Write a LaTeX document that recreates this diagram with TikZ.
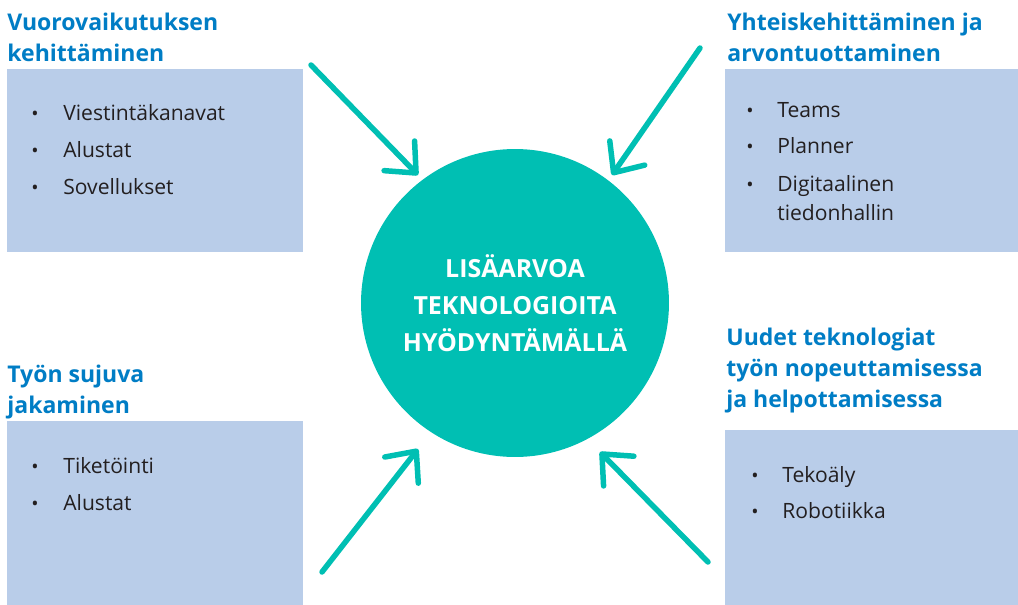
\documentclass[tikz,border=0pt]{standalone}
\usepackage{fontspec}
\setmainfont{Open Sans}
\usetikzlibrary{arrows.meta}

\definecolor{hubteal}{RGB}{0,191,179}
\definecolor{boxblue}{RGB}{185,205,233}
\definecolor{headblue}{RGB}{0,125,197}
\definecolor{itemgray}{RGB}{35,31,32}

\tikzstyle{hub} = [circle, fill=hubteal, minimum size=6.16cm, inner sep=0pt]
\tikzstyle{hubtext} = [anchor=base, text=white, font=\fontsize{14.2}{21}\selectfont\bfseries, align=center, inner sep=0pt]
\tikzstyle{head} = [anchor=base west, text=headblue, font=\fontsize{13.1}{17.6}\selectfont\bfseries, align=left, inner sep=0pt]
\tikzstyle{itm} = [anchor=base west, text=itemgray, font=\fontsize{12}{16.4}\selectfont, align=left, inner sep=0pt]
\tikzstyle{bul} = [anchor=base, text=itemgray, font=\fontsize{11}{14}\selectfont, inner sep=0pt]
\tikzstyle{panel} = [fill=boxblue]
\tikzstyle{push} = [draw=hubteal, line width=0.11cm, line cap=round, -{Straight Barb[length=0.48cm, width=0.85cm, round]}]

\begin{document}
\begin{tikzpicture}[x=0.02cm, y=-0.02cm]
\useasboundingbox (0,0) rectangle (1018,605);

% panels
\fill[panel] (7,69) rectangle (303,252);
\fill[panel] (725,69) rectangle (1018,252);
\fill[panel] (7,421) rectangle (303,605);
\fill[panel] (725,430) rectangle (1018,605);

% centre
\node[hub] (hub) at (515,303) {};
\node[hubtext] (hublabel) at (515,351) {LISÄARVOA\\TEKNOLOGIOITA\\HYÖDYNTÄMÄLLÄ};

% top left
\node[head] (tlhead) at (7,61) {Vuorovaikutuksen\\kehittäminen};
\node[bul] (tlb1) at (35,120) {\textbullet};
\node[itm] (tli1) at (63,120) {Viestintäkanavat};
\node[bul] (tlb2) at (35,157) {\textbullet};
\node[itm] (tli2) at (63,157) {Alustat};
\node[bul] (tlb3) at (35,194) {\textbullet};
\node[itm] (tli3) at (63,194) {Sovellukset};

% top right
\node[head] (trhead) at (727,61) {Yhteiskehittäminen ja\\arvontuottaminen};
\node[bul] (trb1) at (750,117) {\textbullet};
\node[itm] (tri1) at (777,117) {Teams};
\node[bul] (trb2) at (750,153) {\textbullet};
\node[itm] (tri2) at (777,153) {Planner};
\node[bul] (trb3) at (750,191) {\textbullet};
\node[itm] (tri3) at (777,220) {Digitaalinen\\tiedonhallin};

% bottom left
\node[head] (blhead) at (7,413) {Työn sujuva\\jakaminen};
\node[bul] (blb1) at (35,473) {\textbullet};
\node[itm] (bli1) at (63,473) {Tiketöinti};
\node[bul] (blb2) at (35,510) {\textbullet};
\node[itm] (bli2) at (63,510) {Alustat};

% bottom right
\node[head] (brhead) at (726,407) {Uudet teknologiat\\työn nopeuttamisessa\\ja helpottamisessa};
\node[bul] (brb1) at (755,482) {\textbullet};
\node[itm] (bri1) at (782,482) {Tekoäly};
\node[bul] (brb2) at (755,518) {\textbullet};
\node[itm] (bri2) at (782,518) {Robotiikka};

% arrows
\coordinate (tlfrom) at (311,65);
\coordinate (tlto) at (418,175);
\coordinate (trfrom) at (700,48);
\coordinate (trto) at (612,175);
\coordinate (blfrom) at (322,572);
\coordinate (blto) at (418,449);
\coordinate (brfrom) at (708,562);
\coordinate (brto) at (600,452);
\draw[push] (tlfrom) -- (tlto);
\draw[push] (trfrom) -- (trto);
\draw[push] (blfrom) -- (blto);
\draw[push] (brfrom) -- (brto);
\end{tikzpicture}
\end{document}
